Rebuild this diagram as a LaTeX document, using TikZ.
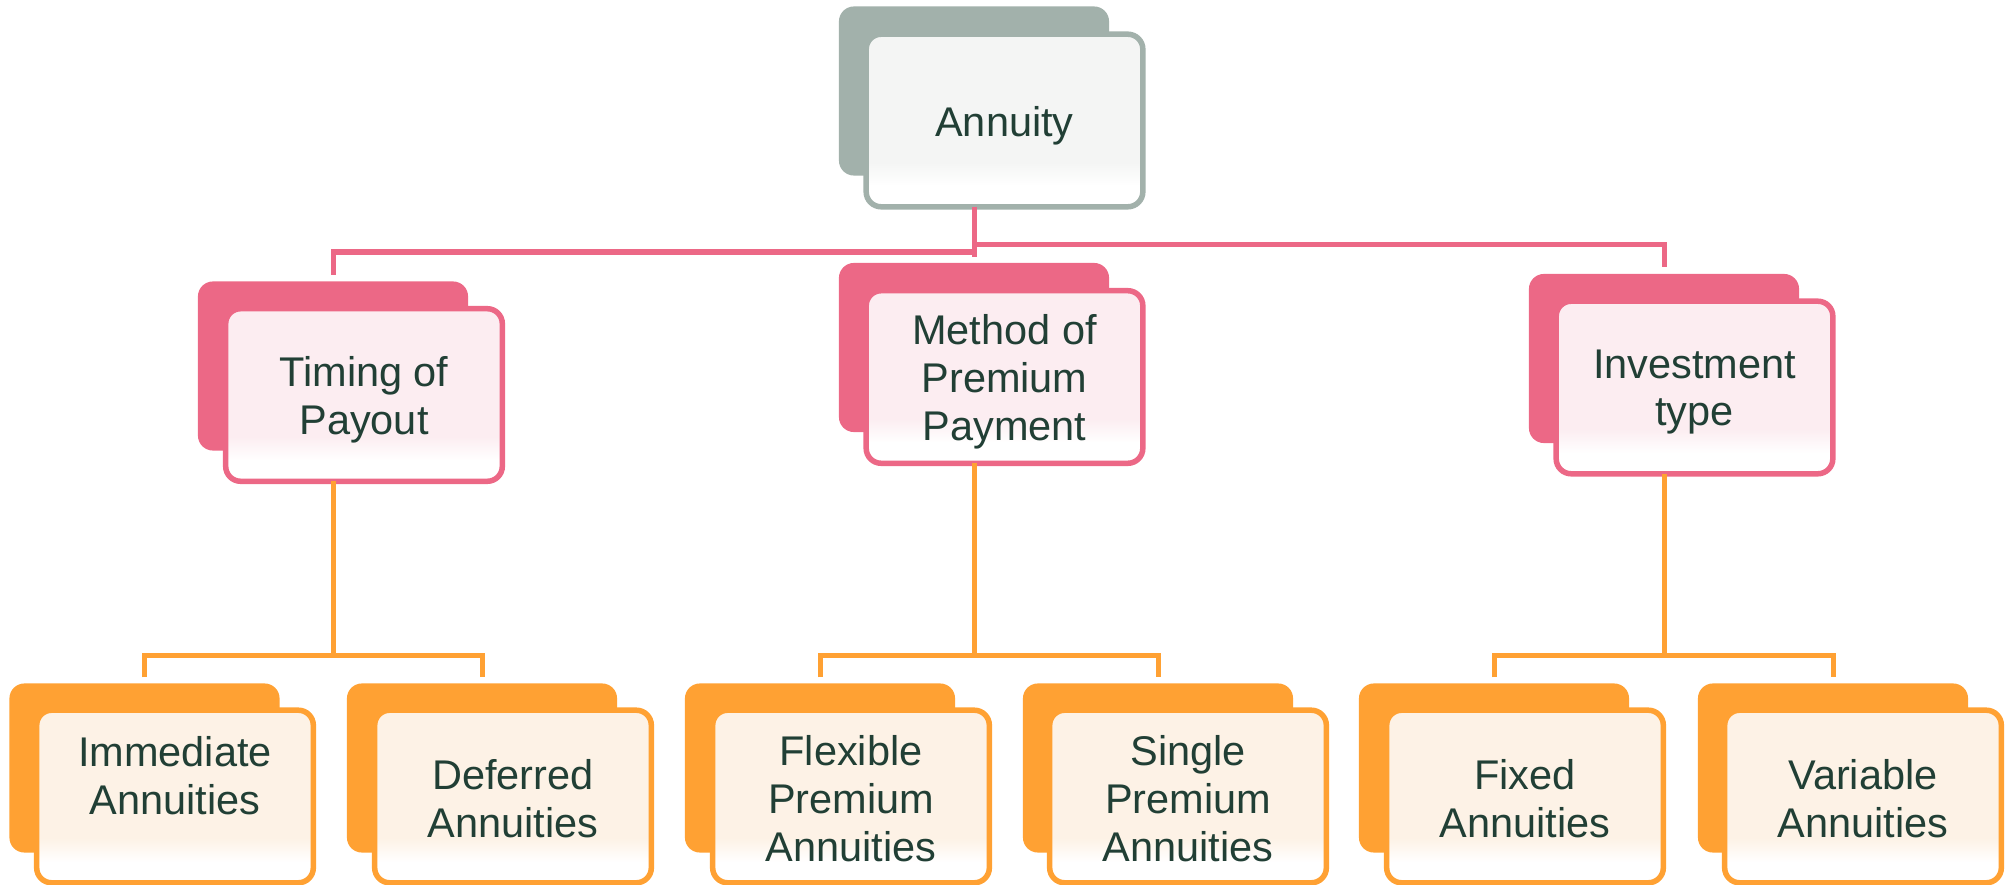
\documentclass[tikz,border=0pt]{standalone}
\usepackage{fontspec}
\setmainfont{Liberation Sans}
\usetikzlibrary{calc}

\definecolor{sage}{HTML}{A2B1AB}
\definecolor{rose}{HTML}{EC6886}
\definecolor{amber}{HTML}{FFA133}
\definecolor{sagetint}{HTML}{F4F5F4}
\definecolor{rosetint}{HTML}{FCEDF1}
\definecolor{ambertint}{HTML}{FDF2E6}
\definecolor{ink}{HTML}{213F35}

% washes for the front cards: tinted above, white near the bottom edge
\pgfdeclareverticalshading{sagewash}{100bp}{color(0bp)=(white); color(25bp)=(white); color(31bp)=(white); color(38bp)=(sagetint); color(100bp)=(sagetint)}
\pgfdeclareverticalshading{rosewash}{100bp}{color(0bp)=(white); color(25bp)=(white); color(31bp)=(white); color(38bp)=(rosetint); color(100bp)=(rosetint)}
\pgfdeclareverticalshading{amberwash}{100bp}{color(0bp)=(white); color(25bp)=(white); color(31bp)=(white); color(38bp)=(ambertint); color(100bp)=(ambertint)}

\begin{document}
\begin{tikzpicture}[x=0.01cm, y=-0.01cm,
  backcard/.style={rectangle, rounded corners=0.15cm, minimum width=2.70cm,
    minimum height=1.69cm, inner sep=0pt, outer sep=0pt, fill=#1},
  frontcard/.style={rectangle, rounded corners=0.15cm, line width=0.055cm,
    minimum width=2.765cm, minimum height=1.725cm, inner sep=0pt, outer sep=0pt,
    draw=#1, shade, shading=#1wash},
  cardtext/.style={inner sep=0pt, align=center, text=ink,
    font=\fontsize{11.8}{13.6}\selectfont},
  pinkline/.style={draw=rose, line width=0.05cm},
  orangeline/.style={draw=amber, line width=0.05cm},
]
\useasboundingbox (0,0) rectangle (2011,885);

% ---- root
\node[backcard=sage] (rootb) at (974,91) {};
\node[frontcard=sage] (root) at (1004.5,120.5) {};
\node[cardtext] (root-t) at ([yshift=-0.05cm]root.center) {Annuity};

% ---- second level
\node[backcard=rose] (tpb) at (333,366) {};
\node[frontcard=rose] (tp) at (364,395) {};
\node[cardtext] (tp-t) at ([yshift=-0.05cm]tp.center) {Timing of\\Payout};
\node[backcard=rose] (mpb) at (974,347.5) {};
\node[frontcard=rose] (mp) at (1004.5,377) {};
\node[cardtext] (mp-t) at ([yshift=-0.05cm]mp.center) {Method of\\Premium\\Payment};
\node[backcard=rose] (itb) at (1664,358.5) {};
\node[frontcard=rose] (it) at (1694.5,387.5) {};
\node[cardtext] (it-t) at ([yshift=-0.045cm]it.center) {Investment\\type};

% ---- leaves
\node[backcard=amber] (iab) at (144.5,768) {};
\node[frontcard=amber] (ia) at (175,796.5) {};
\node[cardtext] (ia-t) at ([yshift=0.21cm]ia.center) {Immediate\\Annuities};
\node[backcard=amber] (dab) at (482,768) {};
\node[frontcard=amber] (da) at (513,796.5) {};
\node[cardtext] (da-t) at ([yshift=-0.02cm]da.center) {Deferred\\Annuities};
\node[backcard=amber] (fpb) at (820,768) {};
\node[frontcard=amber] (fp) at (851,796.5) {};
\node[cardtext] (fp-t) at ([yshift=-0.02cm]fp.center) {Flexible\\Premium\\Annuities};
\node[backcard=amber] (spb) at (1158,768) {};
\node[frontcard=amber] (sp) at (1188,796.5) {};
\node[cardtext] (sp-t) at ([yshift=-0.02cm]sp.center) {Single\\Premium\\Annuities};
\node[backcard=amber] (fab) at (1494,768) {};
\node[frontcard=amber] (fa) at (1525,796.5) {};
\node[cardtext] (fa-t) at ([yshift=-0.02cm]fa.center) {Fixed\\Annuities};
\node[backcard=amber] (vab) at (1833,768) {};
\node[frontcard=amber] (va) at (1863,796.5) {};
\node[cardtext] (va-t) at ([yshift=-0.02cm]va.center) {Variable\\Annuities};

% ---- root connectors
\coordinate (hubL) at (974,252);
\coordinate (hubR) at (974,245);
\draw[pinkline, shorten >=0.06cm] (root.south -| rootb.center) -- (mpb.north);
\draw[pinkline, shorten >=0.06cm] (hubL) -| (tpb.north);
\draw[pinkline, shorten >=0.07cm] (hubR) -| (itb.north);

% ---- leaf brackets
\coordinate (forkTP) at (333,655);
\coordinate (forkMP) at (974,655);
\coordinate (forkIT) at (1664,655);
\draw[orangeline] (tp.south -| tpb.center) -- (forkTP);
\draw[orangeline] (mp.south -| mpb.center) -- (forkMP);
\draw[orangeline] (it.south -| itb.center) -- (forkIT);
\draw[orangeline, shorten <=0.06cm, shorten >=0.06cm] (iab.north) |- (forkTP) -| (dab.north);
\draw[orangeline, shorten <=0.06cm, shorten >=0.06cm] (fpb.north) |- (forkMP) -| (spb.north);
\draw[orangeline, shorten <=0.06cm, shorten >=0.06cm] (fab.north) |- (forkIT) -| (vab.north);
\end{tikzpicture}
\end{document}
